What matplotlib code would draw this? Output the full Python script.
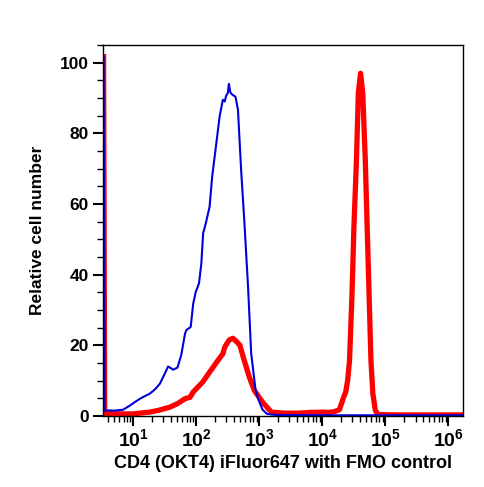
import matplotlib
matplotlib.use('Agg')
import matplotlib.pyplot as plt
from matplotlib.ticker import LogLocator, MultipleLocator, FixedLocator, NullFormatter

plt.rcParams['font.family'] = 'Liberation Sans'
plt.rcParams['font.weight'] = 'bold'
plt.rcParams['mathtext.fontset'] = 'custom'
plt.rcParams['mathtext.rm'] = 'Liberation Sans:bold'
plt.rcParams['mathtext.bf'] = 'Liberation Sans:bold'
plt.rcParams['mathtext.it'] = 'Liberation Sans:bold'

# FMO control (blue)
blue_x = [3.37, 3.51, 4.03, 5.01, 6.92, 8.91, 10.7, 12.8, 15.1, 18.2, 21.9, 26.3, 31.6, 35.5,
          39.8, 42.7, 50.1, 57.5, 66.1, 69.2, 81.3, 89.1, 97.7, 110, 120, 128, 141, 162, 178,
          209, 234, 263, 282, 295, 316, 328, 347, 380, 417, 457, 513, 575, 661, 741, 871, 977,
          1122, 1318, 1778, 10000, 100000, 1000000, 2000000]
blue_y = [101.7, 1.5, 1.6, 1.5, 1.8, 3.0, 4.0, 4.9, 5.6, 6.3, 7.5, 9.1, 12.0, 14.0,
          13.5, 13.1, 13.7, 17.2, 23.3, 24.3, 25.2, 31.8, 35.1, 37.5, 43.2, 51.7, 54.5, 59.2, 67.7,
          77.7, 84.8, 89.5, 89.0, 90.5, 91.5, 94.0, 91.5, 90.8, 90.4, 86.7, 69.6, 55.5, 36.5, 17.7, 7.2, 4.4,
          1.8, 0.6, 0.3, 0.2, 0.2, 0.2, 0.2]

# CD4 stained sample (red)
red_x = [3.37, 3.51, 6.31, 10, 18.2, 25.1, 38.0, 50.1, 66.1, 79.4, 89.1, 126, 162, 219, 263,
         282, 331, 380, 437, 490, 575, 692, 832, 1122, 1549, 2512, 3981, 6310, 10000, 12589,
         15849, 18621, 21878, 23442, 25119, 26915, 29512, 31623, 34674, 37154, 40272, 43652,
         47863, 51286, 54954, 58884, 63096, 69183, 75858, 158489, 2000000]
red_y = [101.7, 0.7, 0.6, 0.6, 1.1, 1.6, 2.5, 3.5, 4.9, 5.3, 6.8, 9.6, 12.4, 15.7, 17.6,
         19.5, 21.5, 22.0, 21.0, 20.0, 15.7, 11.0, 7.2, 3.9, 1.1, 0.8, 0.8, 1.0, 1.1, 1.0,
         1.3, 1.8, 5.5, 6.8, 10.0, 15.7, 34.7, 53.6, 72.5, 91.4, 97.0, 91.4,
         72.5, 53.6, 34.7, 15.7, 6.3, 1.6, 0.4, 0.3, 0.3]

x_ticks = [10, 100, 1000, 10000, 100000, 1000000]
x_tick_labels = [r'$10^{1}$', r'$10^{2}$', r'$10^{3}$', r'$10^{4}$', r'$10^{5}$', r'$10^{6}$']
y_ticks = [0, 20, 40, 60, 80, 100]

fig = plt.figure(figsize=(4.84, 4.87), dpi=100)
ax = fig.add_axes([0.2128, 0.1458, 0.7438, 0.7618])

ax.plot(red_x, red_y, color='#ff0000', lw=3.8, solid_joinstyle='round')
ax.plot(blue_x, blue_y, color='#0000dc', lw=1.5)

ax.set_xscale('log')
ax.set_xlim(3.3, 1.7e6)
ax.set_ylim(0, 105)

ax.xaxis.set_major_locator(FixedLocator(x_ticks))
ax.set_xticklabels(x_tick_labels)
ax.xaxis.set_minor_locator(LogLocator(base=10, subs=range(2, 10), numticks=20))
ax.xaxis.set_minor_formatter(NullFormatter())
ax.set_yticks(y_ticks)
ax.yaxis.set_minor_locator(MultipleLocator(5))

ax.tick_params(axis='x', which='major', length=7, width=1.5, labelsize=14, pad=2)
ax.tick_params(axis='x', which='minor', length=4, width=1)
ax.tick_params(axis='y', which='major', length=7, width=1.5, labelsize=12.5, pad=3)
ax.tick_params(axis='y', which='minor', length=4, width=1)
for lbl in ax.get_yticklabels():
    lbl.set_fontweight('bold')

for s in ax.spines.values():
    s.set_linewidth(1)

ax.set_xlabel('CD4 (OKT4) iFluor647 with FMO control', fontsize=13, fontweight='bold', labelpad=3)
ax.set_ylabel('Relative cell number', fontsize=12.5, fontweight='bold', labelpad=11)

plt.savefig('out.png', dpi=100)
